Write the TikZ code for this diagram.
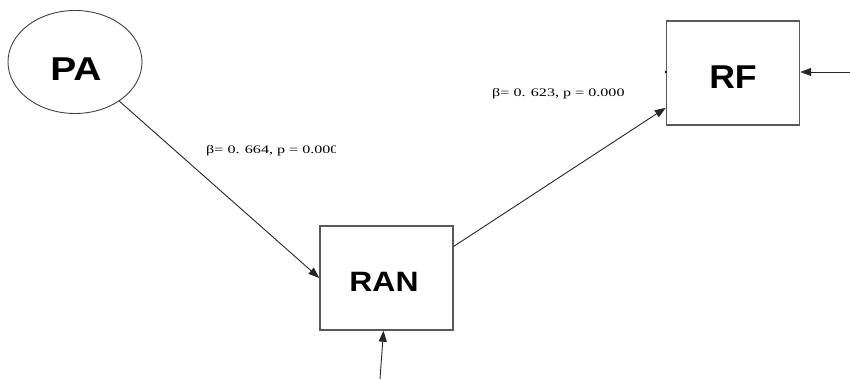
\documentclass[tikz,border=0pt]{standalone}
\usepackage{fontspec}
\setmainfont{Liberation Serif}
\newfontfamily\headfont{Liberation Sans}
\usetikzlibrary{shapes.geometric,arrows.meta,calc}
\tikzset{
  latent/.style={ellipse,draw=black!75,line width=0.9pt,minimum width=134pt,minimum height=103pt,inner sep=0pt},
  observed/.style={rectangle,draw=black!65,line width=1.4pt,minimum width=133pt,minimum height=104pt,inner sep=0pt},
  bigtext/.style={font=\headfont\bfseries\fontsize{33}{36}\selectfont},
  path/.style={draw=black!85,line width=0.9pt,-{Triangle[length=11pt,width=8pt]}},
  coef/.style={font=\fontsize{11.5}{13}\selectfont,inner sep=0pt,anchor=west}
}
\begin{document}
\begin{tikzpicture}[x=1pt,y=-1pt]
  \useasboundingbox (0,0) rectangle (850,379);
  % constructs
  \node[latent] (PA) at (75,62) {};
  \node[observed] (RAN) at (386.5,278) {};
  \node[observed] (RF) at (733,73) {};
  \node[bigtext] (PAt) at (76,69) {\scalebox{1.18}[1]{PA}};
  \node[bigtext,font=\headfont\bfseries\fontsize{28}{32}\selectfont] (RANt) at (384,282) {\scalebox{1.14}[1]{RAN}};
  \node[bigtext] (RFt) at (733,77) {\scalebox{1.08}[1]{RF}};
  % structural paths
  \draw[path] (PA) -- (RAN.west);
  \draw[path] ($(RAN.north east)!0.2!(RAN.south east)$) -- ($(RF.north west)!0.83!(RF.south west)$);
  % error terms
  \coordinate (eRF) at (850,72);
  \coordinate (eRAN) at (380,379);
  \draw[path] (eRF) -- (RF.east |- eRF);
  \draw[path] (eRAN) -- ($(RAN.south)+(-3,0)$);
  \fill[black] ($(RF.west)+(0,-1)$) circle (1.2pt);
  % path coefficients
  \begin{scope}
    \clip (190,135) rectangle (335,165);
    \node[coef] (c1) at (206,151) {\scalebox{1.4}[1]{β= 0. 664, p = 0.000}};
  \end{scope}
  \node[coef] (c2) at (492,94) {\scalebox{1.4}[1]{β= 0. 623, p = 0.000}};
\end{tikzpicture}
\end{document}
